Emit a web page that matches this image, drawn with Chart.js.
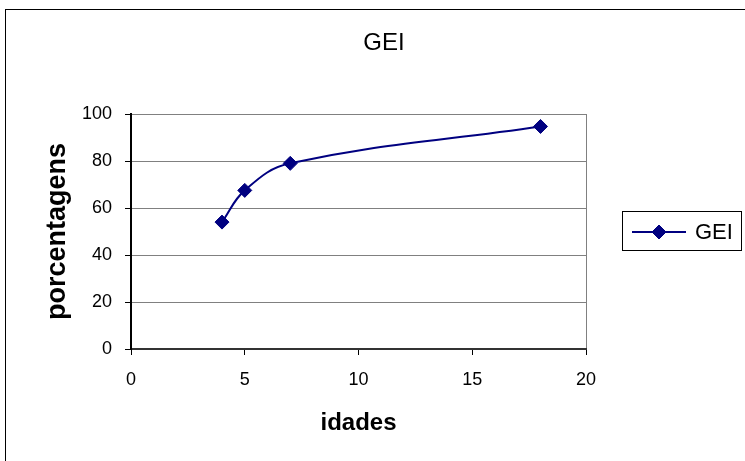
<!DOCTYPE html>
<html>
<head>
<meta charset="utf-8">
<script src="https://cdn.jsdelivr.net/npm/chart.js@4/dist/chart.umd.min.js"></script>
<style>
  html, body { margin: 0; padding: 0; background: #fff; }
  canvas { display: block; }
</style>
</head>
<body>
<canvas id="c" width="745" height="461"></canvas>
<script>
// Chart texts
const chartTitle = 'GEI';
const seriesName = 'GEI';
const xAxisTitle = 'idades';
const yAxisTitle = 'porcentagens';

// Series values
const ages = [4, 5, 7, 18];
const percentages = [54, 67.5, 79, 94.7];

// Tick labels
const xTicks = [0, 5, 10, 15, 20];
const yTicks = [0, 20, 40, 60, 80, 100];

const FONT = '"Liberation Sans", Arial, sans-serif';
const NAVY = '#000080';

const points = ages.map((x, i) => ({ x: x, y: percentages[i] }));

// White background, outer frame, the centred title and the boxed legend on the right
const frame = {
  id: 'frame',
  beforeDraw(chart) {
    const ctx = chart.ctx;
    ctx.save();
    ctx.fillStyle = '#fff';
    ctx.fillRect(0, 0, chart.width, chart.height);
    ctx.strokeStyle = '#000';
    ctx.lineWidth = 1;
    ctx.strokeRect(5.5, 9.5, chart.width + 20, chart.height + 20);
    ctx.fillStyle = '#000';
    ctx.font = '24px ' + FONT;
    ctx.textAlign = 'center';
    ctx.textBaseline = 'alphabetic';
    ctx.fillText(chartTitle, 384, 50);
    ctx.restore();
  },
  afterDraw(chart) {
    const ctx = chart.ctx;
    const ds = chart.data.datasets[0];
    ctx.save();
    ctx.strokeStyle = '#000';
    ctx.lineWidth = 1;
    ctx.strokeRect(622.5, 211.5, 119, 39);
    const cy = 232;
    ctx.strokeStyle = ds.borderColor;
    ctx.lineWidth = 2;
    ctx.beginPath();
    ctx.moveTo(632, cy);
    ctx.lineTo(686, cy);
    ctx.stroke();
    ctx.fillStyle = ds.pointBackgroundColor;
    ctx.strokeStyle = ds.pointBorderColor;
    ctx.lineWidth = 1;
    Chart.helpers.drawPoint(ctx, { pointStyle: 'rectRot', radius: 7, borderWidth: 1, rotation: 0 }, 659, cy);
    ctx.fillStyle = '#000';
    ctx.font = '22px ' + FONT;
    ctx.textBaseline = 'middle';
    ctx.textAlign = 'left';
    ctx.fillText(ds.label, 695, cy + 1);
    ctx.restore();
  }
};

new Chart(document.getElementById('c'), {
  type: 'scatter',
  data: {
    datasets: [{
      label: seriesName,
      data: points,
      showLine: true,
      fill: false,
      tension: 0.4,
      borderColor: NAVY,
      borderWidth: 2,
      pointStyle: 'rectRot',
      pointRadius: 7,
      pointHoverRadius: 7,
      pointBackgroundColor: NAVY,
      pointBorderColor: NAVY,
      pointBorderWidth: 1,
      clip: false
    }]
  },
  options: {
    responsive: false,
    animation: false,
    events: [],
    layout: { padding: { top: 114, right: 159, bottom: 0, left: 0 } },
    plugins: {
      legend: { display: false },
      tooltip: { enabled: false },
      title: { display: false }
    },
    scales: {
      x: {
        type: 'linear',
        position: 'bottom',
        min: 0,
        max: 20,
        afterBuildTicks(scale) { scale.ticks = xTicks.map(v => ({ value: v })); },
        afterFit(scale) { scale.height = 112; },
        ticks: {
          color: '#000',
          font: { family: FONT, size: 18 },
          padding: 14,
          maxRotation: 0
        },
        grid: {
          color: c => (c.tick && c.tick.value === 20 ? '#808080' : 'rgba(0,0,0,0)'),
          tickColor: '#000',
          tickLength: 6,
          lineWidth: 1
        },
        border: { color: '#333', width: 2 },
        title: {
          display: true,
          text: xAxisTitle,
          color: '#000',
          font: { family: FONT, size: 24, weight: 'bold', lineHeight: 1.2 },
          padding: { top: 0, bottom: 23.6 }
        }
      },
      y: {
        type: 'linear',
        position: 'left',
        min: 0,
        max: 100,
        afterBuildTicks(scale) { scale.ticks = yTicks.map(v => ({ value: v })); },
        afterFit(scale) { scale.width = 131; },
        ticks: {
          color: '#000',
          font: { family: FONT, size: 18 },
          padding: 13
        },
        grid: {
          color: '#808080',
          tickColor: '#000',
          tickLength: 6,
          lineWidth: 1
        },
        border: { color: '#000', width: 2 },
        title: {
          display: true,
          text: yAxisTitle,
          color: '#000',
          font: { family: FONT, size: 27, weight: 'bold', lineHeight: 1.2 },
          padding: { top: 41, bottom: 0 }
        }
      }
    }
  },
  plugins: [frame]
});
</script>
</body>
</html>
